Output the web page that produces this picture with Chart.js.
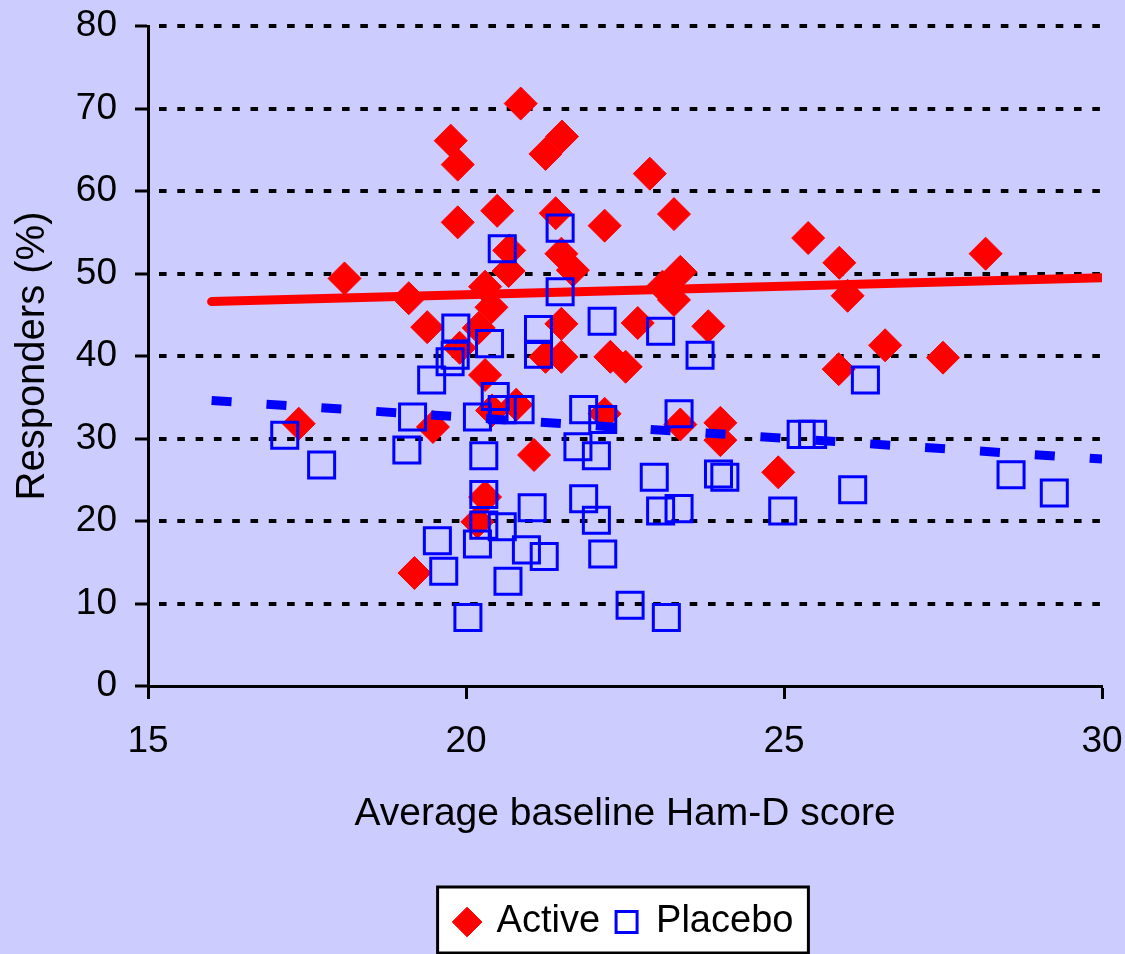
<!DOCTYPE html>
<html>
<head>
<meta charset="utf-8">
<script src="https://cdn.jsdelivr.net/npm/chart.js@4.4.1/dist/chart.umd.min.js"></script>
<style>
html,body{margin:0;padding:0;background:#CCCCFF;}
#wrap{width:1125px;height:954px;}
</style>
</head>
<body>
<div id="wrap"><canvas id="c" width="1125" height="954"></canvas></div>
<script>
// ---- data ----
const seriesNames = ['Active', 'Placebo'];

const activeX = [17.37,18.09,19.10,19.39,19.48,19.19,19.76,19.87,19.87,19.90,20.20,20.18,20.30,20.30,20.30,20.40,20.49,20.68,20.67,20.41,20.79,20.86,21.07,21.25,21.51,21.41,21.50,21.68,21.50,21.25,21.50,22.18,22.18,22.27,22.51,22.70,22.89,23.09,23.27,23.37,23.27,23.37,23.81,24.00,24.00,24.91,25.38,25.87,26.00,25.86,26.59,27.50,28.17];
const activeY = [31.8,49.4,47.0,43.5,31.4,13.7,66.1,63.2,56.2,41.0,43.4,19.9,22.9,48.4,37.7,45.9,57.6,52.8,50.3,33.4,34.1,70.6,28.0,64.5,66.6,57.3,52.4,50.4,43.9,39.9,39.9,55.8,33.0,39.9,38.7,44.0,62.1,48.4,46.8,50.2,57.2,31.7,43.6,31.9,29.8,25.9,54.3,51.3,47.3,38.4,41.3,39.8,52.4];

const placeboX = [17.15,17.73,19.16,19.07,19.46,19.55,19.65,19.75,19.83,19.84,20.03,20.18,20.18,20.28,20.28,20.28,20.37,20.46,20.57,20.57,20.57,20.66,20.85,20.95,21.04,21.14,21.14,21.23,21.48,21.48,21.76,21.85,21.85,22.05,22.05,22.14,22.15,22.15,22.58,22.96,23.06,23.06,23.15,23.35,23.35,23.68,23.97,24.07,24.98,25.27,25.45,26.08,26.28,28.57,29.25];
const placeboY = [30.4,26.8,32.6,28.6,37.1,17.6,13.9,39.3,40.1,43.4,8.3,32.6,17.2,27.9,23.2,19.5,41.5,35.1,33.5,53.0,19.3,12.7,33.5,16.5,21.6,43.2,40.2,15.7,55.5,47.8,29.0,33.5,22.7,27.9,20.1,44.2,32.3,16.0,9.8,25.3,43.0,21.2,8.3,33.0,21.5,40.1,25.7,25.3,21.2,30.5,30.5,23.8,37.1,25.6,23.4];

const trendX = [16, 30];
const activeTrendY = [46.6, 49.5];
const placeboTrendY = [34.6, 27.5];

const xTickValues = [15, 20, 25, 30];
const yTickValues = [0, 10, 20, 30, 40, 50, 60, 70, 80];

const xTitle = 'Average baseline Ham-D score';
const yTitle = 'Responders (%)';

// ---- build chart ----
const FONT = "'Liberation Sans', Arial, sans-serif";
const pts = (xs, ys) => xs.map((x, i) => ({x: x, y: ys[i]}));

const bgPlugin = {
  id: 'bgAndLegendBox',
  beforeDraw(chart) {
    const ctx = chart.ctx;
    ctx.save();
    ctx.fillStyle = '#CCCCFF';
    ctx.fillRect(0, 0, chart.width, chart.height);
    const lg = chart.legend;
    if (lg && lg.legendHitBoxes && lg.legendHitBoxes.length) {
      const hb = lg.legendHitBoxes;
      const left = Math.min(...hb.map(h => h.left)) - 19;
      const right = Math.max(...hb.map(h => h.left + h.width)) + 15;
      const cy = hb[0].top + hb[0].height / 2;
      const top = cy - 35, bottom = cy + 31;
      ctx.fillStyle = '#FFFFFF';
      ctx.fillRect(left, top, right - left, bottom - top);
      ctx.strokeStyle = '#000000';
      ctx.lineWidth = 3;
      ctx.strokeRect(left, top, right - left, bottom - top);
    }
    ctx.restore();
  }
};

new Chart(document.getElementById('c'), {
  type: 'scatter',
  data: {
    datasets: [
      {
        label: seriesNames[0],
        data: pts(activeX, activeY),
        pointStyle: 'rectRot',
        pointRadius: 16.5,
        pointHoverRadius: 16.5,
        backgroundColor: '#FF0000',
        borderColor: '#FF0000',
        borderWidth: 1,
        order: 3
      },
      {
        label: seriesNames[1],
        data: pts(placeboX, placeboY),
        pointStyle: 'rect',
        pointRadius: 18.4,
        pointHoverRadius: 18.4,
        backgroundColor: 'rgba(0,0,0,0)',
        borderColor: '#0000FF',
        borderWidth: 3,
        order: 0
      },
      {
        label: 'Active trend',
        data: pts(trendX, activeTrendY),
        showLine: true,
        pointRadius: 0,
        borderColor: '#FF0000',
        backgroundColor: '#FF0000',
        borderWidth: 9,
        borderCapStyle: 'round',
        order: 2
      },
      {
        label: 'Placebo trend',
        data: pts(trendX, placeboTrendY),
        showLine: true,
        pointRadius: 0,
        borderColor: '#0000FF',
        backgroundColor: '#0000FF',
        borderWidth: 9,
        borderDash: [20, 35],
        order: 1
      }
    ]
  },
  options: {
    responsive: false,
    devicePixelRatio: 1,
    animation: false,
    layout: { padding: { left: 0, right: 23, top: 26, bottom: 3 } },
    plugins: {
      tooltip: { enabled: false },
      title: { display: false },
      legend: {
        display: true,
        position: 'bottom',
        fullSize: false,
        labels: {
          usePointStyle: true,
          boxWidth: 21,
          boxHeight: 21,
          padding: 16,
          color: '#000000',
          font: { size: 38, family: FONT },
          filter: (item) => item.datasetIndex < 2,
          sort: (a, b) => a.datasetIndex - b.datasetIndex
        }
      }
    },
    scales: {
      x: {
        type: 'linear',
        position: 'bottom',
        min: 15,
        max: 30,
        afterBuildTicks: (s) => { s.ticks = xTickValues.map(v => ({ value: v })); },
        afterFit: (s) => { s.height = 201; s.paddingLeft = 0; s.paddingRight = 0; },
        ticks: { color: '#000000', font: { size: 37, family: FONT }, padding: 21, maxRotation: 0 },
        grid: { drawOnChartArea: false, drawTicks: true, tickLength: 13, tickColor: '#000000', tickWidth: 3 },
        border: { display: true, color: '#000000', width: 3 },
        title: { display: true, text: xTitle, color: '#000000', font: { size: 39, family: FONT }, padding: { top: 0, bottom: 49 } }
      },
      y: {
        type: 'linear',
        position: 'left',
        min: 0,
        max: 80,
        afterBuildTicks: (s) => { s.ticks = yTickValues.map(v => ({ value: v })); },
        afterFit: (s) => { s.width = 148; s.paddingTop = 0; s.paddingBottom = 0; },
        ticks: { color: '#000000', font: { size: 37, family: FONT }, padding: 18 },
        grid: {
          drawOnChartArea: true,
          color: (c) => (c.tick && c.tick.value === 0) ? 'rgba(0,0,0,0)' : '#000000',
          lineWidth: 4, drawTicks: true, tickLength: 13, tickColor: '#000000', tickWidth: 3, tickBorderDash: []
        },
        border: { display: true, color: '#000000', width: 3, dash: [7.6, 10.7], dashOffset: 9.3 },
        title: { display: true, text: yTitle, color: '#000000', font: { size: 40, family: FONT }, padding: { top: 9, bottom: 0 } }
      }
    }
  },
  plugins: [bgPlugin]
});
</script>
</body>
</html>
